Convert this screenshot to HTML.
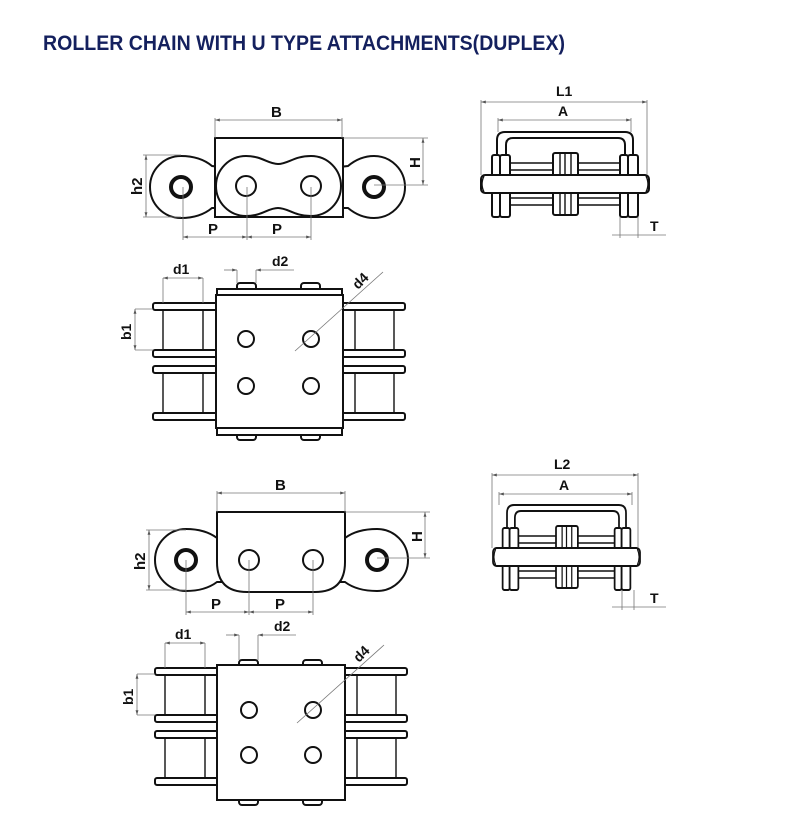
<!DOCTYPE html>
<html><head><meta charset="utf-8"><style>
html,body{margin:0;padding:0;background:#fff;}
svg{display:block;}
text{font-family:"Liberation Sans",Arial,sans-serif;font-weight:bold;fill:#111;}
.o{fill:#fff;stroke:#111;stroke-width:2;}
.t{fill:none;stroke:#111;stroke-width:1.4;}
.d{fill:none;stroke:#777;stroke-width:0.8;}
</style></head><body>
<svg width="790" height="813" viewBox="0 0 790 813" xmlns="http://www.w3.org/2000/svg">
<defs>
<marker id="a" viewBox="0 0 10 10" refX="10" refY="5" markerWidth="7" markerHeight="6" orient="auto-start-reverse"><path d="M0,2 L10,5 L0,8 z" fill="#555"/></marker>
<g id="top">
  <g class="o" stroke-width="1.6">
    <rect x="153" y="303" width="252" height="7" rx="2"/>
    <rect x="153" y="350" width="252" height="7" rx="2"/>
    <rect x="153" y="366" width="252" height="7" rx="2"/>
    <rect x="153" y="413" width="252" height="7" rx="2"/>
  </g>
  <g class="t">
    <line x1="163" y1="310" x2="163" y2="350"/><line x1="203" y1="310" x2="203" y2="350"/>
    <line x1="163" y1="373" x2="163" y2="413"/><line x1="203" y1="373" x2="203" y2="413"/>
    <line x1="355" y1="310" x2="355" y2="350"/><line x1="394" y1="310" x2="394" y2="350"/>
    <line x1="355" y1="373" x2="355" y2="413"/><line x1="394" y1="373" x2="394" y2="413"/>
  </g>
  <line class="d" x1="163" y1="278" x2="163" y2="303"/><line class="d" x1="203" y1="278" x2="203" y2="303"/>
  <line class="d" x1="163" y1="278" x2="203" y2="278" marker-start="url(#a)" marker-end="url(#a)"/>
  <text x="173" y="274" font-size="14">d1</text>
  <line class="d" x1="224" y1="270" x2="237" y2="270" marker-end="url(#a)"/>
  <line class="d" x1="256" y1="270" x2="294" y2="270" marker-start="url(#a)"/>
  <text x="272" y="266" font-size="14">d2</text>
  <line class="d" x1="135" y1="309" x2="135" y2="350" marker-start="url(#a)" marker-end="url(#a)"/>
  <line class="d" x1="135" y1="309" x2="153" y2="309"/><line class="d" x1="135" y1="350" x2="153" y2="350"/>
  <text transform="translate(131,340) rotate(-90)" font-size="14">b1</text>
</g>
<g id="right">
  <path class="o" d="M497,215 V140 Q497,132 505,132 H625 Q633,132 633,140 V215 H625 V145 Q625,138 618,138 H513 Q506,138 506,145 V215 Z"/>
  <g class="o" stroke-width="1.6">
    <rect x="492" y="155" width="8" height="62" rx="2"/><rect x="500" y="155" width="10" height="62" rx="2"/>
    <rect x="620" y="155" width="8" height="62" rx="2"/><rect x="628" y="155" width="10" height="62" rx="2"/>
    <rect x="553" y="153" width="25" height="62" rx="2"/>
  </g>
  <g class="t" stroke-width="1.2">
    <line x1="560" y1="153" x2="560" y2="215"/><line x1="565" y1="153" x2="565" y2="215"/><line x1="571" y1="153" x2="571" y2="215"/>
    <line x1="510" y1="163" x2="553" y2="163"/><line x1="510" y1="170" x2="553" y2="170"/>
    <line x1="578" y1="163" x2="620" y2="163"/><line x1="578" y1="170" x2="620" y2="170"/>
    <line x1="510" y1="198" x2="553" y2="198"/><line x1="510" y1="205" x2="553" y2="205"/>
    <line x1="578" y1="198" x2="620" y2="198"/><line x1="578" y1="205" x2="620" y2="205"/>
  </g>
  <rect class="o" x="481" y="175" width="168" height="18" rx="4"/>
  <path class="t" d="M484,176 Q480,184 484,192 M646,176 Q650,184 646,192"/>
</g>
</defs>

<text x="43" y="50" font-size="21" style="fill:#14205e" textLength="522" lengthAdjust="spacingAndGlyphs">ROLLER CHAIN WITH U TYPE ATTACHMENTS(DUPLEX)</text>

<g>
  <path class="o" d="M181,156 Q200,156 212,166 L230,168 L330,168 L348,166 Q360,156 374,156 A31,31 0 0 1 374,218 Q360,218 348,208 L230,208 L212,208 Q200,218 181,218 A31,31 0 0 1 181,156 Z"/>
  <rect class="o" x="215" y="138" width="128" height="79"/>
  <path class="o" d="M246,156 C262,156 268,164 278,164 C288,164 294,156 311,156 A30,30 0 0 1 311,216 C294,216 288,208 278,208 C268,208 262,216 246,216 A30,30 0 0 1 246,156 Z"/>
  <circle cx="181" cy="187" r="10" fill="none" stroke="#111" stroke-width="4"/>
  <circle cx="374" cy="187" r="10" fill="none" stroke="#111" stroke-width="4"/>
  <circle class="o" cx="246" cy="186" r="10"/><circle class="o" cx="311" cy="186" r="10"/>
  <line class="d" x1="215" y1="120" x2="342" y2="120" marker-start="url(#a)" marker-end="url(#a)"/>
  <line class="d" x1="215" y1="118" x2="215" y2="138"/><line class="d" x1="342" y1="118" x2="342" y2="138"/>
  <text x="271" y="117" font-size="15">B</text>
  <line class="d" x1="343" y1="138" x2="428" y2="138"/><line class="d" x1="374" y1="185" x2="428" y2="185"/>
  <line class="d" x1="423" y1="138" x2="423" y2="185" marker-start="url(#a)" marker-end="url(#a)"/>
  <text transform="translate(420,168) rotate(-90)" font-size="15">H</text>
  <line class="d" x1="143" y1="155" x2="181" y2="155"/><line class="d" x1="143" y1="217" x2="181" y2="217"/>
  <line class="d" x1="146" y1="155" x2="146" y2="217" marker-start="url(#a)" marker-end="url(#a)"/>
  <text transform="translate(142,195) rotate(-90)" font-size="15">h2</text>
  <line class="d" x1="183" y1="187" x2="183" y2="240"/><line class="d" x1="247" y1="187" x2="247" y2="240"/><line class="d" x1="311" y1="187" x2="311" y2="240"/>
  <line class="d" x1="183" y1="237" x2="247" y2="237" marker-start="url(#a)" marker-end="url(#a)"/>
  <line class="d" x1="247" y1="237" x2="311" y2="237" marker-start="url(#a)" marker-end="url(#a)"/>
  <text x="208" y="234" font-size="15">P</text><text x="272" y="234" font-size="15">P</text>
</g>

<use href="#top"/>
<g class="o" stroke-width="1.6">
  <rect x="237" y="283" width="19" height="8" rx="3"/><rect x="301" y="283" width="19" height="8" rx="3"/>
  <rect x="237" y="432" width="19" height="8" rx="3"/><rect x="301" y="432" width="19" height="8" rx="3"/>
</g>
<line class="d" x1="237" y1="270" x2="237" y2="283"/><line class="d" x1="256" y1="270" x2="256" y2="283"/>
<rect class="o" x="217" y="289" width="125" height="146"/>
<rect class="o" x="216" y="295" width="127" height="133"/>
<g class="o" stroke-width="1.8"><circle cx="246" cy="339" r="8"/><circle cx="311" cy="339" r="8"/><circle cx="246" cy="386" r="8"/><circle cx="311" cy="386" r="8"/></g>
<line class="d" x1="295" y1="351" x2="383" y2="272"/>
<text transform="translate(358,290) rotate(-45)" font-size="14">d4</text>

<use href="#right"/>
<line class="d" x1="481" y1="102" x2="647" y2="102" marker-start="url(#a)" marker-end="url(#a)"/>
<line class="d" x1="481" y1="100" x2="481" y2="175"/><line class="d" x1="647" y1="100" x2="647" y2="175"/>
<text x="556" y="96" font-size="14">L1</text>
<line class="d" x1="498" y1="120" x2="631" y2="120" marker-start="url(#a)" marker-end="url(#a)"/>
<line class="d" x1="498" y1="118" x2="498" y2="132"/><line class="d" x1="631" y1="118" x2="631" y2="132"/>
<text x="558" y="116" font-size="14">A</text>
<line class="d" x1="620" y1="217" x2="620" y2="238"/><line class="d" x1="638" y1="217" x2="638" y2="238"/>
<line class="d" x1="612" y1="235" x2="666" y2="235"/>
<text x="650" y="231" font-size="14">T</text>

<g>
  <path class="o" d="M186,529 Q205,529 217,538 L345,538 Q357,529 377,529 A31,31 0 0 1 377,591 Q357,591 345,582 L217,582 Q205,591 186,591 A31,31 0 0 1 186,529 Z"/>
  <path class="o" d="M217,512 H345 V562 Q345,592 315,592 H247 Q217,592 217,562 Z"/>
  <circle cx="186" cy="560" r="10" fill="none" stroke="#111" stroke-width="4"/>
  <circle cx="377" cy="560" r="10" fill="none" stroke="#111" stroke-width="4"/>
  <circle class="o" cx="249" cy="560" r="10"/><circle class="o" cx="313" cy="560" r="10"/>
  <line class="d" x1="217" y1="493" x2="345" y2="493" marker-start="url(#a)" marker-end="url(#a)"/>
  <line class="d" x1="217" y1="491" x2="217" y2="512"/><line class="d" x1="345" y1="491" x2="345" y2="512"/>
  <text x="275" y="490" font-size="15">B</text>
  <line class="d" x1="345" y1="512" x2="430" y2="512"/><line class="d" x1="377" y1="558" x2="430" y2="558"/>
  <line class="d" x1="425" y1="512" x2="425" y2="558" marker-start="url(#a)" marker-end="url(#a)"/>
  <text transform="translate(422,542) rotate(-90)" font-size="15">H</text>
  <line class="d" x1="146" y1="530" x2="186" y2="530"/><line class="d" x1="146" y1="590" x2="186" y2="590"/>
  <line class="d" x1="149" y1="530" x2="149" y2="590" marker-start="url(#a)" marker-end="url(#a)"/>
  <text transform="translate(145,570) rotate(-90)" font-size="15">h2</text>
  <line class="d" x1="186" y1="560" x2="186" y2="615"/><line class="d" x1="249" y1="560" x2="249" y2="615"/><line class="d" x1="313" y1="560" x2="313" y2="615"/>
  <line class="d" x1="186" y1="612" x2="249" y2="612" marker-start="url(#a)" marker-end="url(#a)"/>
  <line class="d" x1="249" y1="612" x2="313" y2="612" marker-start="url(#a)" marker-end="url(#a)"/>
  <text x="211" y="609" font-size="15">P</text><text x="275" y="609" font-size="15">P</text>
</g>

<g transform="translate(2,365)"><use href="#top"/></g>
<g class="o" stroke-width="1.6">
  <rect x="239" y="660" width="19" height="8" rx="3"/><rect x="303" y="660" width="19" height="8" rx="3"/>
  <rect x="239" y="797" width="19" height="8" rx="3"/><rect x="303" y="797" width="19" height="8" rx="3"/>
</g>
<line class="d" x1="239" y1="635" x2="239" y2="660"/><line class="d" x1="258" y1="635" x2="258" y2="660"/>
<rect class="o" x="217" y="665" width="128" height="135"/>
<g class="o" stroke-width="1.8"><circle cx="249" cy="710" r="8"/><circle cx="313" cy="710" r="8"/><circle cx="249" cy="755" r="8"/><circle cx="313" cy="755" r="8"/></g>
<line class="d" x1="297" y1="723" x2="384" y2="645"/>
<text transform="translate(359,663) rotate(-45)" font-size="14">d4</text>

<g transform="translate(493,373) scale(0.875,1) translate(-481,0)"><use href="#right"/></g>
<line class="d" x1="492" y1="475" x2="638" y2="475" marker-start="url(#a)" marker-end="url(#a)"/>
<line class="d" x1="492" y1="473" x2="492" y2="548"/><line class="d" x1="638" y1="473" x2="638" y2="548"/>
<text x="554" y="469" font-size="14">L2</text>
<line class="d" x1="499" y1="494" x2="632" y2="494" marker-start="url(#a)" marker-end="url(#a)"/>
<line class="d" x1="499" y1="492" x2="499" y2="505"/><line class="d" x1="632" y1="492" x2="632" y2="505"/>
<text x="559" y="490" font-size="14">A</text>
<line class="d" x1="622" y1="590" x2="622" y2="610"/><line class="d" x1="634" y1="590" x2="634" y2="610"/>
<line class="d" x1="612" y1="607" x2="666" y2="607"/>
<text x="650" y="603" font-size="14">T</text>
</svg>
</body></html>
